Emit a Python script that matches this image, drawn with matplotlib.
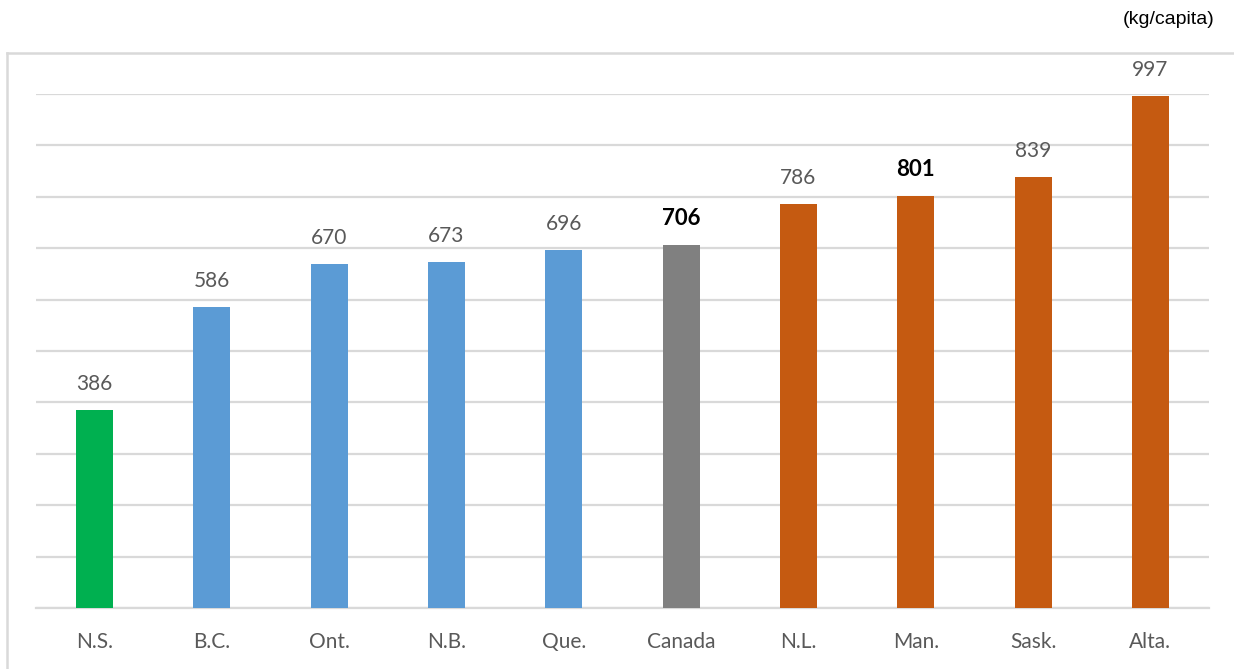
import matplotlib
matplotlib.use('Agg')
import matplotlib.pyplot as plt
from matplotlib.lines import Line2D

provinces = ['N.S.', 'B.C.', 'Ont.', 'N.B.', 'Que.', 'Canada', 'N.L.', 'Man.', 'Sask.', 'Alta.']
waste_kg = [386, 586, 670, 673, 696, 706, 786, 801, 839, 997]
bar_colors = ['#00b050', '#5b9bd5', '#5b9bd5', '#5b9bd5', '#5b9bd5',
              '#808080', '#c55a11', '#c55a11', '#c55a11', '#c55a11']
bold_labels = ['Canada', 'Man.']

plt.rcParams['font.family'] = ['Lato', 'DejaVu Sans']

fig = plt.figure(figsize=(12.34, 6.69), dpi=100)
ax = fig.add_axes([36 / 1234, 1 - 608 / 669, 1173 / 1234, 514 / 669])

x = range(len(provinces))
ax.bar(x, waste_kg, width=0.315, color=bar_colors, zorder=3)

for i, (name, v) in enumerate(zip(provinces, waste_kg)):
    if name in bold_labels:
        ax.annotate(str(v), (i, v), xytext=(0, 11.5), textcoords='offset points',
                    ha='center', va='bottom', fontsize=16, fontweight='bold', color='black')
    else:
        ax.annotate(str(v), (i, v), xytext=(0, 11.5), textcoords='offset points',
                    ha='center', va='bottom', fontsize=15, color='#595959')

ax.set_xlim(-0.5, len(provinces) - 0.5)
ax.set_ylim(0, 1000)
ax.set_yticks(range(0, 1001, 100))
ax.yaxis.grid(True, color='#d9d9d9', linewidth=1.6, zorder=0)
ax.tick_params(axis='y', left=False, labelleft=False)
ax.set_xticks(list(x))
ax.set_xticklabels(provinces, fontsize=15, color='#595959')
ax.tick_params(axis='x', length=0, pad=17)
for side in ['left', 'right', 'top']:
    ax.spines[side].set_visible(False)
ax.spines['bottom'].set_color('#d9d9d9')
ax.spines['bottom'].set_linewidth(1.6)

# chart area border (left and top edges)
fig.add_artist(Line2D([7 / 1234, 7 / 1234], [0, 1 - 53 / 669], transform=fig.transFigure,
                      color='#d9d9d9', linewidth=1.8))
fig.add_artist(Line2D([7 / 1234, 1], [1 - 53 / 669, 1 - 53 / 669], transform=fig.transFigure,
                      color='#d9d9d9', linewidth=1.8))

fig.text(1215 / 1234, 1 - 20 / 669, '(kg/capita)', ha='right', va='center',
         fontsize=14, family=['Liberation Sans', 'DejaVu Sans'], color='black')

fig.savefig('out.png', dpi=100, facecolor='white')
